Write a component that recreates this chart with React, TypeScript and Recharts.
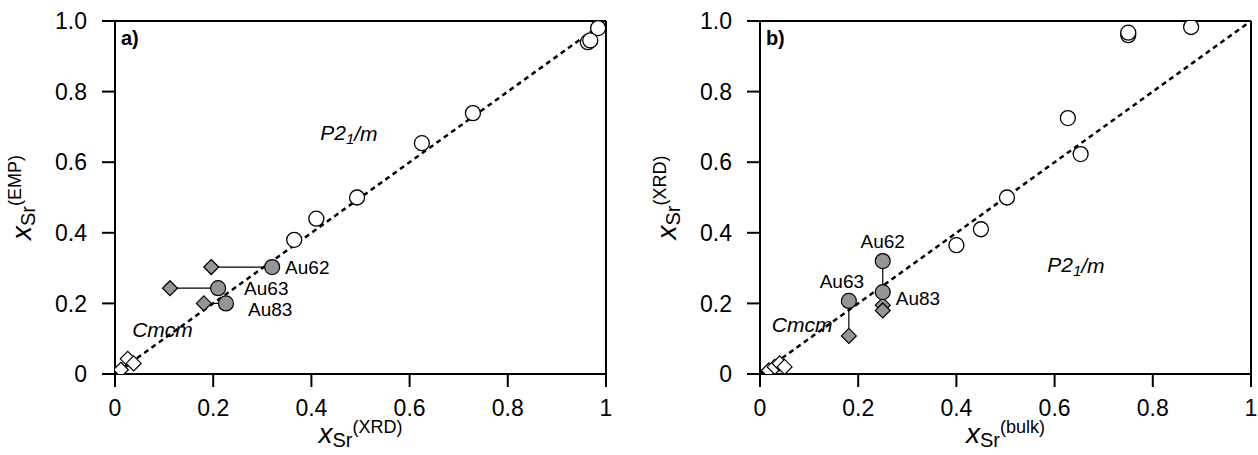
import { ScatterChart, Scatter, XAxis, YAxis, ReferenceLine, Label } from 'recharts';

const FONT = '"Liberation Sans", Arial, sans-serif';

const ticks = [0, 0.2, 0.4, 0.6, 0.8, 1];
const sampleNames = ['Au62', 'Au63', 'Au83'];
const diagonal = [{ x: 0, y: 0 }, { x: 1, y: 1 }];

// a) x_Sr from XRD vs. EMP
const openCirclesA = [
  { x: 0.365, y: 0.38 }, { x: 0.41, y: 0.44 }, { x: 0.493, y: 0.5 },
  { x: 0.625, y: 0.654 }, { x: 0.729, y: 0.739 }, { x: 0.963, y: 0.94 },
  { x: 0.968, y: 0.945 }, { x: 0.984, y: 0.98 },
];
const openDiamondsA = [
  { x: 0.012, y: 0.012 }, { x: 0.026, y: 0.043 }, { x: 0.038, y: 0.03 },
];
const auCircleXA = [0.32, 0.21, 0.226];
const auCircleYA = [0.303, 0.243, 0.2];
const auDiamondXA = [0.196, 0.112, 0.181];
const auDiamondYA = [0.303, 0.243, 0.2];

// b) x_Sr from bulk vs. XRD
const openCirclesB = [
  { x: 0.4, y: 0.365 }, { x: 0.45, y: 0.41 }, { x: 0.503, y: 0.5 },
  { x: 0.627, y: 0.725 }, { x: 0.653, y: 0.623 }, { x: 0.75, y: 0.96 },
  { x: 0.75, y: 0.967 }, { x: 0.878, y: 0.983 },
];
const openDiamondsB = [
  { x: 0.018, y: 0.01 }, { x: 0.03, y: 0.02 }, { x: 0.04, y: 0.03 }, { x: 0.05, y: 0.02 },
];
const auCircleXB = [0.25, 0.181, 0.25];
const auCircleYB = [0.32, 0.207, 0.232];
const auDiamondXB = [0.25, 0.181, 0.25];
const auDiamondYB = [0.195, 0.108, 0.18];

// sample label offsets (px) from the circle centre
const labelOffsetA: Record<string, [number, number, string]> = {
  Au62: [13, 0, 'start'], Au63: [26, 0, 'start'], Au83: [22, 6, 'start'],
};
const labelOffsetB: Record<string, [number, number, string]> = {
  Au62: [0, -20, 'middle'], Au63: [-7, -19, 'middle'], Au83: [13, 6, 'start'],
};

const GRAY = '#959595';

const makePoints = (xs: number[], ys: number[]) =>
  xs.map((x, i) => ({ x, y: ys[i], name: sampleNames[i] }));

const OpenCircle = (p: any) => (
  <circle cx={p.cx} cy={p.cy} r={7.5} fill="#fff" stroke="#000" strokeWidth={1.3} />
);
const GrayCircle = (p: any) => (
  <circle cx={p.cx} cy={p.cy} r={7.5} fill={GRAY} stroke="#000" strokeWidth={1.2} />
);
const diamondPath = (cx: number, cy: number, h: number) =>
  `M${cx},${cy - h}L${cx + h},${cy}L${cx},${cy + h}L${cx - h},${cy}Z`;
const OpenDiamond = (p: any) => (
  <path d={diamondPath(p.cx, p.cy, 7.5)} fill="#fff" stroke="#000" strokeWidth={1.2} />
);
const GrayDiamond = (p: any) => (
  <path d={diamondPath(p.cx, p.cy, 7.5)} fill={GRAY} stroke="#000" strokeWidth={1.2} />
);
const NoDot = () => <g />;

const fmtX = (v: number) => (v === 0 ? '0' : v === 1 ? '1' : v.toFixed(1));
const fmtY = (v: number) => (v === 0 ? '0' : v.toFixed(1));

// x_Sr^(...) axis title, shared by both axes
const TitleSpans = ({ sup }: { sup: string }) => (
  <>
    <tspan fontStyle="italic" fontSize={28}>x</tspan>
    <tspan fontSize={20} dy={4}>Sr</tspan>
    <tspan fontSize={18} dy={-14}>{sup}</tspan>
  </>
);

const XTitle = ({ viewBox, sup }: any) => (
  <text
    x={viewBox.x + viewBox.width / 2}
    y={viewBox.y + 69}
    textAnchor="middle"
    fontFamily={FONT}
    fill="#000"
  >
    <TitleSpans sup={sup} />
  </text>
);

const YTitle = ({ viewBox, sup }: any) => {
  const cx = viewBox.x + viewBox.width - 84;
  const cy = viewBox.y + viewBox.height / 2;
  return (
    <text
      x={cx}
      y={cy}
      transform={`rotate(-90 ${cx} ${cy})`}
      textAnchor="middle"
      fontFamily={FONT}
      fill="#000"
    >
      <TitleSpans sup={sup} />
    </text>
  );
};

const PhaseText = ({ cx, cy, children, bold }: any) => (
  <text
    x={cx}
    y={cy}
    dominantBaseline="central"
    fontFamily={FONT}
    fontSize={bold ? 20 : 21}
    fontStyle={bold ? 'normal' : 'italic'}
    fontWeight={bold ? 'bold' : 'normal'}
    fill="#000"
  >
    {children}
  </text>
);

const axisStroke = { stroke: '#000', strokeWidth: 2 };
const tickStyle = { fontFamily: FONT, fontSize: 23, fill: '#000' };

type PanelProps = {
  tag: string;
  xSup: string;
  ySup: string;
  yAxisWidth: number;
  rightMargin: number;
  openCircles: { x: number; y: number }[];
  openDiamonds: { x: number; y: number }[];
  auCircles: { x: number; y: number; name: string }[];
  auDiamonds: { x: number; y: number; name: string }[];
  labelOffset: Record<string, [number, number, string]>;
  p21Pos: { x: number; y: number };
  cmcmPos: { x: number; y: number };
};

const Panel = (props: PanelProps) => {
  const {
    tag, xSup, ySup, yAxisWidth, rightMargin, openCircles, openDiamonds,
    auCircles, auDiamonds, labelOffset, p21Pos, cmcmPos,
  } = props;

  const SampleLabel = (p: any) => {
    const name = p.payload?.name ?? p.name;
    const [dx, dy, anchor] = labelOffset[name];
    return (
      <text
        x={p.cx + dx}
        y={p.cy + dy}
        dominantBaseline="central"
        textAnchor={anchor as any}
        fontFamily={FONT}
        fontSize={19}
        fill="#000"
      >
        {name}
      </text>
    );
  };

  return (
    <ScatterChart
      width={629}
      height={455}
      margin={{ top: 21, right: rightMargin, bottom: 0, left: 0 }}
    >
      <XAxis
        type="number"
        dataKey="x"
        domain={[0, 1]}
        ticks={ticks}
        tickFormatter={fmtX}
        allowDataOverflow
        height={81}
        tickSize={13}
        tickMargin={13}
        axisLine={axisStroke}
        tickLine={axisStroke}
        tick={tickStyle}
        label={<Label content={(p: any) => <XTitle {...p} sup={xSup} />} />}
      />
      <YAxis
        type="number"
        dataKey="y"
        domain={[0, 1]}
        ticks={ticks}
        tickFormatter={fmtY}
        allowDataOverflow
        width={yAxisWidth}
        tickSize={13}
        tickMargin={15}
        axisLine={axisStroke}
        tickLine={axisStroke}
        tick={tickStyle}
        label={<Label content={(p: any) => <YTitle {...p} sup={ySup} />} />}
      />
      <ReferenceLine y={1} stroke="#000" strokeWidth={2} />
      <ReferenceLine x={1} stroke="#000" strokeWidth={2} />

      <Scatter
        data={diagonal}
        shape={NoDot}
        line={{ stroke: '#000', strokeWidth: 2.5, strokeDasharray: '5 4' }}
        isAnimationActive={false}
      />
      {auCircles.map((c, i) => (
        <Scatter
          key={`link-${c.name}`}
          data={[c, auDiamonds[i]]}
          shape={NoDot}
          line={{ stroke: '#000', strokeWidth: 1.2 }}
          isAnimationActive={false}
        />
      ))}
      <Scatter data={openCircles} shape={OpenCircle} isAnimationActive={false} />
      <Scatter data={openDiamonds} shape={OpenDiamond} isAnimationActive={false} />
      <Scatter data={auDiamonds} shape={GrayDiamond} isAnimationActive={false} />
      <Scatter data={auCircles} shape={GrayCircle} isAnimationActive={false} />
      <Scatter data={auCircles} shape={SampleLabel} isAnimationActive={false} />

      <Scatter
        data={[p21Pos]}
        isAnimationActive={false}
        shape={(p: any) => (
          <PhaseText cx={p.cx} cy={p.cy}>
            P2<tspan fontSize={15} dy={5}>1</tspan>
            <tspan dy={-5}>/m</tspan>
          </PhaseText>
        )}
      />
      <Scatter
        data={[cmcmPos]}
        isAnimationActive={false}
        shape={(p: any) => <PhaseText cx={p.cx} cy={p.cy}>Cmcm</PhaseText>}
      />
      <Scatter
        data={[{ x: 0.012, y: 0.952 }]}
        isAnimationActive={false}
        shape={(p: any) => <PhaseText cx={p.cx} cy={p.cy} bold>{tag}</PhaseText>}
      />
    </ScatterChart>
  );
};

export default function App() {
  return (
    <div style={{ position: 'absolute', left: 0, top: 0, width: 1258, height: 455, background: '#fff' }}>
      <div style={{ position: 'absolute', left: 0, top: 0 }}>
        <Panel
          tag="a)"
          xSup="(XRD)"
          ySup="(EMP)"
          yAxisWidth={115}
          rightMargin={23}
          openCircles={openCirclesA}
          openDiamonds={openDiamondsA}
          auCircles={makePoints(auCircleXA, auCircleYA)}
          auDiamonds={makePoints(auDiamondXA, auDiamondYA)}
          labelOffset={labelOffsetA}
          p21Pos={{ x: 0.418, y: 0.683 }}
          cmcmPos={{ x: 0.035, y: 0.125 }}
        />
      </div>
      <div style={{ position: 'absolute', left: 629, top: 0 }}>
        <Panel
          tag="b)"
          xSup="(bulk)"
          ySup="(XRD)"
          yAxisWidth={131}
          rightMargin={7}
          openCircles={openCirclesB}
          openDiamonds={openDiamondsB}
          auCircles={makePoints(auCircleXB, auCircleYB)}
          auDiamonds={makePoints(auDiamondXB, auDiamondYB)}
          labelOffset={labelOffsetB}
          p21Pos={{ x: 0.585, y: 0.31 }}
          cmcmPos={{ x: 0.024, y: 0.139 }}
        />
      </div>
    </div>
  );
}
